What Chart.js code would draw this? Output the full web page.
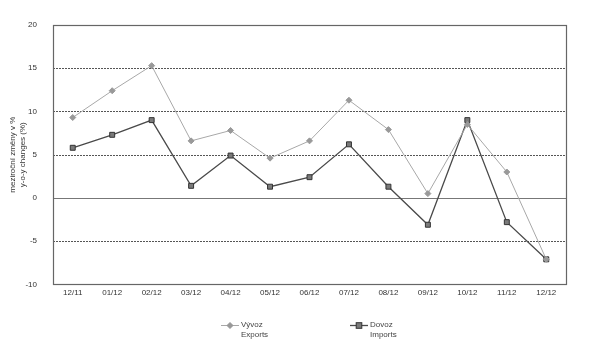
<!DOCTYPE html>
<html lang="cs">
<head>
    <meta charset="UTF-8">
    <title>Vývoz a dovoz</title>
    <script src="https://cdn.jsdelivr.net/npm/chart.js"></script>
    <style>
        body { margin: 0; background: #fff; font-family: 'Liberation Sans', Arial, sans-serif; }
        .wrap { position: relative; width: 600px; height: 353px; }
        .legend { position: absolute; top: 320px; font-size: 8px; color: #444; line-height: 10px; }
        .legend .sym { position: absolute; left: 0; top: 0; width: 18px; height: 10px; }
        .legend .txt { position: absolute; left: 20px; top: 0; white-space: nowrap; }
    </style>
</head>
<body>
<div class="wrap">
    <canvas id="chart" width="600" height="353"></canvas>
    <div class="legend" style="left:221px"><canvas class="sym" id="symExp" width="18" height="10"></canvas><div class="txt">Vývoz<br>Exports</div></div>
    <div class="legend" style="left:350px"><canvas class="sym" id="symImp" width="18" height="10"></canvas><div class="txt">Dovoz<br>Imports</div></div>
</div>
<script>
    const months = ["12/11", "01/12", "02/12", "03/12", "04/12", "05/12", "06/12", "07/12", "08/12", "09/12", "10/12", "11/12", "12/12"];
    const exportsData = [9.3, 12.4, 15.3, 6.6, 7.8, 4.6, 6.6, 11.3, 7.9, 0.5, 8.5, 3.0, -7.1];
    const importsData = [5.8, 7.3, 9.0, 1.4, 4.9, 1.3, 2.4, 6.2, 1.3, -3.1, 9.0, -2.8, -7.1];

    const expColor = "#a8a8a8";
    const impColor = "#4a4a4a";

    // horizontal grid lines + frame
    const frame = {
        id: "frame",
        beforeDatasetsDraw(chart) {
            const { ctx, chartArea: a, scales: { y } } = chart;
            ctx.save();
            y.ticks.forEach(t => {
                const py = Math.round(y.getPixelForValue(t.value)) + 0.5;
                ctx.beginPath();
                if (t.value === 0) {
                    ctx.setLineDash([]);
                    ctx.strokeStyle = "#777";
                    ctx.lineWidth = 1.2;
                } else {
                    ctx.setLineDash([2, 1]);
                    ctx.strokeStyle = "#555";
                    ctx.lineWidth = 1;
                }
                ctx.moveTo(a.left, py);
                ctx.lineTo(a.right, py);
                ctx.stroke();
            });
            ctx.setLineDash([]);
            ctx.strokeStyle = "#666";
            ctx.lineWidth = 1.2;
            ctx.strokeRect(Math.round(a.left) + 0.5, Math.round(a.top) + 0.5, Math.round(a.width), Math.round(a.height));
            ctx.restore();
        }
    };

    new Chart(document.getElementById("chart"), {
        type: "line",
        data: {
            labels: months,
            datasets: [
                {
                    label: "Vývoz / Exports",
                    data: exportsData,
                    borderColor: expColor,
                    borderWidth: 1,
                    pointStyle: "rectRot",
                    pointRadius: 3,
                    pointBackgroundColor: "#999",
                    pointBorderColor: "#999",
                    pointBorderWidth: 1,
                    tension: 0
                },
                {
                    label: "Dovoz / Imports",
                    data: importsData,
                    borderColor: impColor,
                    borderWidth: 1.3,
                    pointStyle: "rect",
                    pointRadius: 3.5,
                    pointBackgroundColor: "#7a7a7a",
                    pointBorderColor: "#333",
                    pointBorderWidth: 1,
                    tension: 0
                }
            ]
        },
        options: {
            responsive: false,
            animation: false,
            layout: { padding: { left: 8, right: 34, top: 25, bottom: 51 } },
            plugins: { legend: { display: false }, tooltip: { enabled: false } },
            scales: {
                x: {
                    offset: true,
                    grid: { display: false, drawTicks: false },
                    border: { display: false },
                    ticks: { color: "#333", font: { family: "'Liberation Sans', Arial", size: 8 }, padding: 4, maxRotation: 0 }
                },
                y: {
                    min: -10,
                    max: 20,
                    afterFit(scale) { scale.width = 45; },
                    grid: { display: false },
                    border: { display: false },
                    ticks: { stepSize: 5, color: "#333", font: { family: "'Liberation Sans', Arial", size: 8 }, padding: 8 },
                    title: {
                        display: true,
                        text: ["meziroční změny v %", "y-o-y changes (%)"],
                        color: "#333",
                        font: { family: "'Liberation Sans', Arial", size: 8 },
                        padding: 0
                    }
                }
            }
        },
        plugins: [frame]
    });

    function legendSym(id, color, width, fill, stroke, rot) {
        const c = document.getElementById(id).getContext("2d");
        c.strokeStyle = color;
        c.lineWidth = width;
        c.beginPath(); c.moveTo(0, 5.5); c.lineTo(18, 5.5); c.stroke();
        c.save();
        c.translate(9, 5.5);
        if (rot) c.rotate(Math.PI / 4);
        c.fillStyle = fill;
        c.strokeStyle = stroke;
        c.lineWidth = 1;
        const s = rot ? 2 : 2.8;
        c.fillRect(-s, -s, 2 * s, 2 * s);
        c.strokeRect(-s, -s, 2 * s, 2 * s);
        c.restore();
    }
    legendSym("symExp", expColor, 1, "#999", "#999", true);
    legendSym("symImp", impColor, 1.3, "#7a7a7a", "#333", false);
</script>
</body>
</html>
